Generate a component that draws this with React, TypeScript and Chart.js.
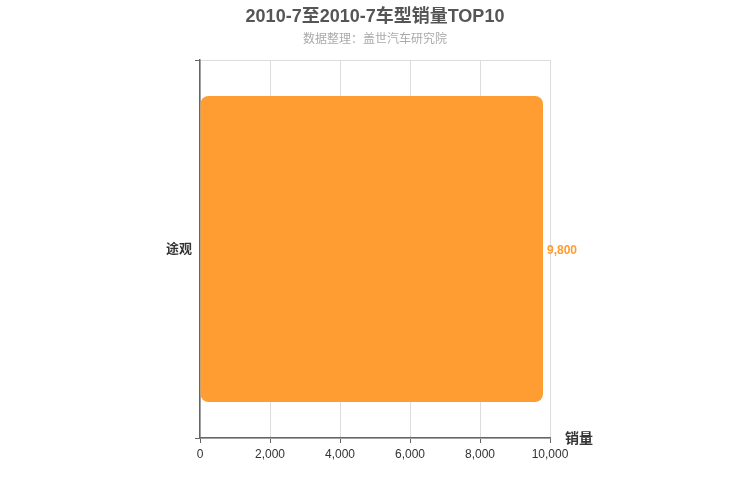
import React, { useEffect, useRef } from 'react';
import { Chart, registerables } from 'chart.js';

Chart.register(...registerables);

const models: string[] = ['途观'];
const sales: number[] = [9800];
const xTicks: number[] = [0, 2000, 4000, 6000, 8000, 10000];

const titleText = '2010-7至2010-7车型销量TOP10';
const subtitleText = '数据整理：盖世汽车研究院';
const xTitle = '销量';

const FONT = '"Liberation Sans", Arial, "Noto Sans CJK SC", sans-serif';
const BAR_COLOR = '#FF9D33';

const fmt = (v: number) => v.toLocaleString('en-US');

// titles, axis name and value labels
const decorations = {
  id: 'decorations',
  afterDraw(chart: Chart) {
    const { ctx, chartArea } = chart;
    ctx.save();
    ctx.textAlign = 'center';
    ctx.textBaseline = 'middle';
    ctx.fillStyle = '#555';
    ctx.font = `bold 18px ${FONT}`;
    ctx.fillText(titleText, chart.width / 2, 17);
    ctx.fillStyle = '#aaa';
    ctx.font = `12px ${FONT}`;
    ctx.fillText(subtitleText, chart.width / 2, 40);

    ctx.fillStyle = '#333';
    ctx.font = `bold 14px ${FONT}`;
    ctx.textAlign = 'left';
    ctx.fillText(xTitle, chartArea.right + 15, chartArea.bottom + 1);

    const meta = chart.getDatasetMeta(0);
    ctx.fillStyle = BAR_COLOR;
    ctx.font = `bold 12px ${FONT}`;
    meta.data.forEach((bar: any, i: number) => {
      ctx.fillText(fmt(sales[i]), bar.x + 4, bar.y + 2);
    });
    ctx.restore();
  },
};

export default function App() {
  const canvasRef = useRef<HTMLCanvasElement | null>(null);

  useEffect(() => {
    document.body.style.margin = '0';
    if (!canvasRef.current) return;
    const chart = new Chart(canvasRef.current, {
      type: 'bar',
      data: {
        labels: models,
        datasets: [
          {
            label: xTitle,
            data: sales,
            backgroundColor: BAR_COLOR,
            borderRadius: 8,
            borderSkipped: false,
            categoryPercentage: 0.81,
            barPercentage: 1,
          },
        ],
      },
      options: {
        indexAxis: 'y',
        animation: false,
        responsive: false,
        layout: { padding: { top: 60, right: 200, left: 0, bottom: 0 } },
        plugins: {
          legend: { display: false },
          tooltip: { enabled: false },
        },
        scales: {
          x: {
            min: 0,
            max: 10000,
            afterBuildTicks: (axis: any) => {
              axis.ticks = xTicks.map((v) => ({ value: v }));
            },
            afterFit: (axis: any) => {
              axis.height = 62;
            },
            border: { color: '#666', width: 1.5 },
            grid: { color: '#ddd', tickColor: '#666', tickLength: 5 },
            ticks: {
              color: '#333',
              font: { family: FONT, size: 12 },
              padding: 4,
              callback: (v: any) => fmt(Number(v)),
            },
          },
          y: {
            afterFit: (axis: any) => {
              axis.width = 200;
            },
            border: { color: '#666', width: 1.5 },
            grid: { offset: true, color: '#ddd', tickColor: '#666', tickLength: 5 },
            ticks: {
              color: '#333',
              font: { family: FONT, size: 13, weight: 'bold' },
              padding: 3,
            },
          },
        },
      },
      plugins: [decorations],
    });
    return () => chart.destroy();
  }, []);

  return (
    <div style={{ width: 750, height: 500 }}>
      <canvas ref={canvasRef} width={750} height={500} />
    </div>
  );
}
